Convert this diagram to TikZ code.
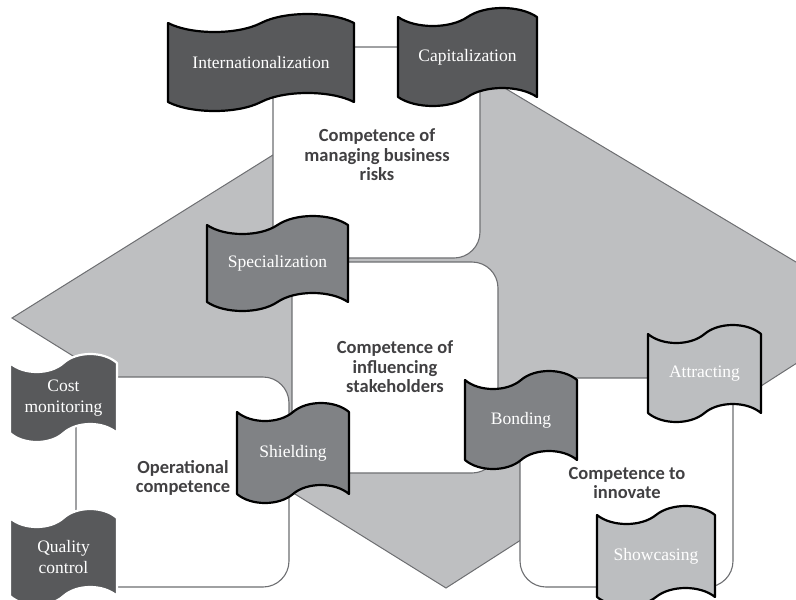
\documentclass[tikz,border=0pt]{standalone}
\usepackage{fontspec}
\setmainfont{Liberation Serif}
\newfontfamily\competencefont{Carlito}

\definecolor{darkflag}{HTML}{58595B}
\definecolor{midflag}{HTML}{808285}
\definecolor{lightflag}{HTML}{BCBEC0}
\definecolor{backdrop}{HTML}{BEBFC1}
\definecolor{boxline}{HTML}{6D6E71}
\definecolor{competencetext}{HTML}{414042}

\tikzset{
  flagtext/.style={text=white, align=center, inner sep=0pt, font=\fontsize{17.5}{21}\selectfont},
  competencebox/.style={draw=boxline, fill=white, line width=1.1pt, rounded corners=26pt},
  competencelabel/.style={text=competencetext, align=center, inner sep=0pt, font=\competencefont\bfseries\fontsize{18.5}{19.5}\selectfont},
}

% flag: name, left, top, width, height, fill, border, text
\newcommand{\flag}[8]{%
  \draw[fill=#6, draw=#7, line width=2.2pt, line join=round]
    (#2,#3) .. controls ({#2+#4/8},{#3+12}) and ({#2+3*#4/8},{#3+12}) .. ({#2+#4/2},#3)
    .. controls ({#2+5*#4/8},{#3-12}) and ({#2+7*#4/8},{#3-12}) .. ({#2+#4},#3)
    -- ({#2+#4},{#3+#5})
    .. controls ({#2+7*#4/8},{#3+#5-12}) and ({#2+5*#4/8},{#3+#5-12}) .. ({#2+#4/2},{#3+#5})
    .. controls ({#2+3*#4/8},{#3+#5+12}) and ({#2+#4/8},{#3+#5+12}) .. (#2,{#3+#5})
    -- cycle;
  \node[flagtext] (#1) at ({#2+#4/2},{#3+#5/2}) {#8};
}

\begin{document}
\begin{tikzpicture}[x=1pt,y=-1pt]
    \useasboundingbox (0,0) rectangle (796,600);
    % backdrop
    \begin{scope}
        \clip (0,0) rectangle (796,600);
        \draw[fill=backdrop, draw=boxline, line width=1pt] (12,318) -- (441,50) -- (878,311) -- (446,588) -- cycle;
    \end{scope}
    % competence boxes
    \draw[competencebox] (273,47) rectangle (480,258);
    \draw[competencebox] (292,262) rectangle (498,473);
    \draw[competencebox] (76,377) rectangle (289,587);
    \draw[competencebox] (520,378) rectangle (733,587);
    \node[competencelabel] (risks) at (377,155) {Competence of\\managing business\\risks};
    \node[competencelabel] (stake) at (395,367) {Competence of\\influencing\\stakeholders};
    \node[competencelabel] (oper) at (183,478) {Operational\\competence};
    \node[competencelabel] (innov) at (627,483) {Competence to\\innovate};
    % flags
    \flag{intl}{168}{23}{186}{79}{darkflag}{black}{Internationalization}
    \flag{capit}{398}{17}{139}{80}{darkflag}{black}{Capitalization}
    \flag{spec}{207}{225}{141}{77}{midflag}{black}{Specialization}
    \flag{shield}{237}{412}{112}{82}{midflag}{black}{Shielding}
    \flag{bond}{465}{380}{112}{80}{midflag}{black}{Bonding}
    \flag{attract}{648}{334}{113}{79}{lightflag}{black}{Attracting}
    \flag{show}{597}{515}{118}{82}{lightflag}{black}{Showcasing}
    \flag{costmon}{10}{363}{107}{70}{darkflag}{white}{Cost\\monitoring}
    \flag{quality}{10}{518}{107}{78}{darkflag}{white}{Quality\\control}
\end{tikzpicture}
\end{document}
